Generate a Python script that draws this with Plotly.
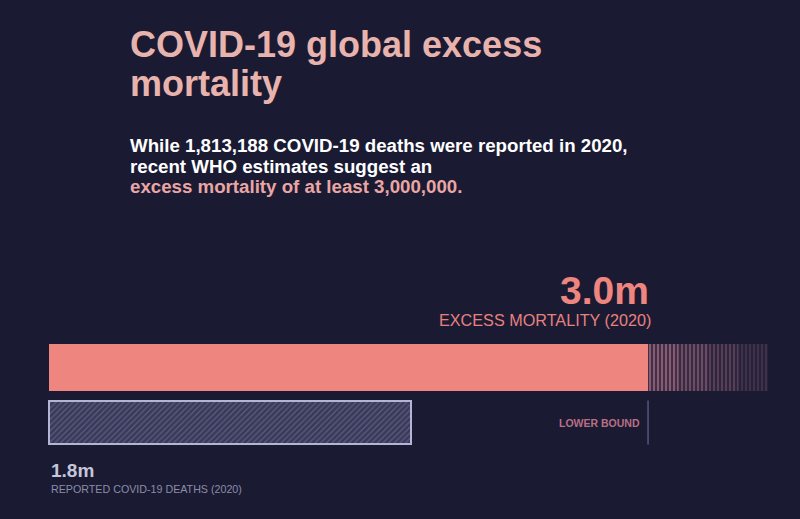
import numpy as np
import plotly.graph_objects as go

# values in millions of deaths, 2020
reported_deaths = 1.813188
excess_lower = 3.0
excess_upper = 3.6   # end of the faded "uncertainty" band
labels = ["EXCESS MORTALITY (2020)", "REPORTED COVID-19 DEATHS (2020)"]
value_text = ["3.0m", "1.8m"]
title_lines = ["COVID-19 global excess", "mortality"]
sub_lines = ["While 1,813,188 COVID-19 deaths were reported in 2020,",
             "recent WHO estimates suggest an",
             "excess mortality of at least 3,000,000."]

BG = "#1a1b33"
PINK = "#ef857f"
TITLE_PINK = "#e8b2ad"
FONT = "Liberation Sans, Arial, sans-serif"
H = 519


def py(px):
    # pixel row -> paper y
    return 1 - px / H


fig = go.Figure()

# excess mortality bar (solid, up to the lower bound)
fig.add_trace(go.Bar(
    x=[excess_lower], y=[0], base=0, orientation="h", width=0.855,
    marker=dict(color=PINK, line=dict(width=0)),
    hoverinfo="skip", showlegend=False,
))

# faded band beyond the lower bound, drawn in a few steps of fading vertical lines
edges = np.linspace(excess_lower, excess_upper, 5)
alphas = [0.85, 0.65, 0.47, 0.3]
for a, b, op in zip(edges[:-1], edges[1:], alphas):
    fig.add_trace(go.Bar(
        x=[b - a], y=[0], base=a, orientation="h", width=0.855,
        marker=dict(color="rgba(0,0,0,0)", line=dict(width=0),
                    pattern=dict(shape="|", fgcolor="#c07a8a", bgcolor="#45334f",
                                 size=4, solidity=0.35, fillmode="replace")),
        opacity=op, hoverinfo="skip", showlegend=False,
    ))

# reported deaths bar (hatched, outlined)
fig.add_trace(go.Bar(
    x=[reported_deaths], y=[1], base=0, orientation="h", width=0.78,
    marker=dict(color="#393a5a", line=dict(color="#b4b4d4", width=2),
                pattern=dict(shape="/", fgcolor="#5c5d7f", bgcolor="#393a5a",
                             size=4, solidity=0.3, fillmode="replace")),
    hoverinfo="skip", showlegend=False,
))

# lower bound marker line
fig.add_shape(type="line", x0=excess_lower, x1=excess_lower, y0=0.6, y1=1.4,
              line=dict(color="#55577a", width=1.5))

ann = []
for txt, row in zip(title_lines, [44, 83]):
    ann.append(dict(x=128 / 800, y=py(row), xref="paper", yref="paper",
                    xanchor="left", yanchor="middle", showarrow=False,
                    text="<b>" + txt + "</b>",
                    font=dict(family=FONT, size=36, color=TITLE_PINK)))
for txt, row, col in zip(sub_lines, [145, 166, 187], ["#ffffff", "#ffffff", "#e9a6a4"]):
    ann.append(dict(x=128 / 800, y=py(row), xref="paper", yref="paper",
                    xanchor="left", yanchor="middle", showarrow=False,
                    text="<b>" + txt + "</b>",
                    font=dict(family=FONT, size=18.7, color=col)))

ann += [
    dict(x=excess_lower, y=py(290), xref="x", yref="paper", xanchor="right", yanchor="middle",
         xshift=3, showarrow=False, text="<b>" + value_text[0] + "</b>",
         font=dict(family=FONT, size=39, color=PINK)),
    dict(x=excess_lower, y=py(320), xref="x", yref="paper", xanchor="right", yanchor="middle",
         xshift=5, showarrow=False, text=labels[0],
         font=dict(family=FONT, size=16.2, color="#e7817f")),
    dict(x=excess_lower - 0.04, y=py(423), xref="x", yref="paper", xanchor="right", yanchor="middle",
         xshift=2, showarrow=False, text="<b>LOWER BOUND</b>",
         font=dict(family=FONT, size=10.5, color="#b86f86")),
    dict(x=0, y=py(470), xref="x", yref="paper", xanchor="left", yanchor="middle",
         showarrow=False, text="<b>" + value_text[1] + "</b>",
         font=dict(family=FONT, size=19, color="#c6c6da")),
    dict(x=0, y=py(489), xref="x", yref="paper", xanchor="left", yanchor="middle",
         showarrow=False, text=labels[1],
         font=dict(family=FONT, size=10.7, color="#8b8ca8")),
]

fig.update_layout(
    width=800, height=519,
    paper_bgcolor=BG, plot_bgcolor=BG,
    margin=dict(l=0, r=0, t=0, b=0),
    barmode="overlay", bargap=0,
    xaxis=dict(range=[-0.2454, 3.761], visible=False, fixedrange=True),
    yaxis=dict(range=[2.755, -6.682], visible=False, fixedrange=True),
    annotations=ann,
    showlegend=False,
)

fig.write_html("out.html", config={"displayModeBar": False},
               post_script="document.body.style.margin='0';document.body.style.background='%s';" % BG)
